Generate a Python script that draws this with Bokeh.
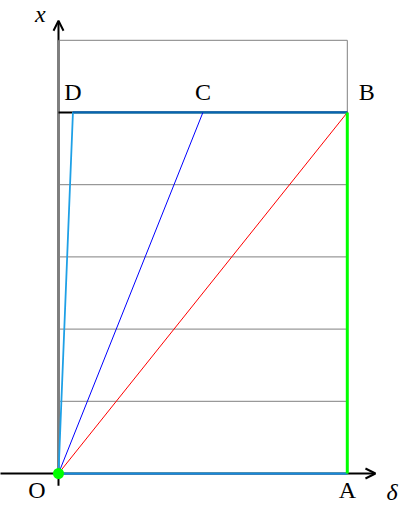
from bokeh.plotting import figure
from bokeh.models import Range1d, Arrow, OpenHead
from bokeh.core.properties import value
from bokeh.embed import file_html
from bokeh.resources import INLINE

# Points O, A, B, C, D
names = ["O", "A", "B", "C", "D"]
px = [0, 4, 4, 2, 0.2]
py = [0, 0, 5, 5, 5]

grid_y = [0, 1, 2, 3, 4, 5, 6]
grid_x0, grid_x1 = 0, 4

axis_x = [-0.82, 4.39]
axis_y = [-0.17, 6.27]

P = dict(zip(names, zip(px, py)))

p = figure(width=401, height=507, output_backend="svg", toolbar_location=None,
           x_range=Range1d(-0.8033, 4.7507), y_range=Range1d(-0.4709, 6.5512),
           min_border=0, outline_line_color=None)
p.axis.visible = False
p.grid.visible = False
p.background_fill_color = "white"

# gray grid
p.multi_line(xs=[[grid_x0, grid_x1] for _ in grid_y], ys=[[g, g] for g in grid_y],
             line_color="#808080", line_width=1)
p.multi_line(xs=[[grid_x0, grid_x0], [grid_x1, grid_x1]], ys=[[0, 6], [0, 6]],
             line_color="#808080", line_width=1)

# axes with arrows
p.add_layout(Arrow(end=OpenHead(size=10, line_width=2, line_color="black"),
                   x_start=axis_x[0], y_start=0, x_end=axis_x[1], y_end=0,
                   line_width=2, line_color="black", level="underlay"))
p.add_layout(Arrow(end=OpenHead(size=10, line_width=2, line_color="black"),
                   x_start=0, y_start=axis_y[0], x_end=0, y_end=axis_y[1],
                   line_width=2, line_color="black", level="underlay"))

# black line at y=5
p.line([0, P["B"][0]], [5, 5], line_color="black", line_width=2)

# cyan polyline A-O-D-B
p.line([P["A"][0], P["O"][0], P["D"][0], P["B"][0]],
       [P["A"][1], P["O"][1], P["D"][1], P["B"][1]], line_color="#1ea0e6", line_width=1.8)
# blue polyline O-C-B
p.line([P["O"][0], P["C"][0]], [P["O"][1], P["C"][1]], line_color="#0000ff", line_width=1)
p.line([P["D"][0], P["B"][0]], [P["D"][1] + 0.006, P["B"][1] + 0.006],
       line_color="#0050a0", line_width=1.2)
p.line([P["O"][0], P["A"][0]], [P["O"][1] - 0.006, P["A"][1] - 0.006],
       line_color="#1070d0", line_width=0.8)
# red O-B
p.line([P["O"][0], P["B"][0]], [P["O"][1], P["B"][1]], line_color="#ff0000", line_width=1)
# green A-B
p.line([P["A"][0], P["B"][0]], [P["A"][1], P["B"][1]], line_color="#00ff00", line_width=3)

# green dot at O
p.scatter([P["O"][0]], [P["O"][1]], size=11, fill_color="#00ff00", line_color=None)

font = value("Liberation Serif")
lab_dx = [-0.30, 0.0, 0.27, 0.0, 0.0]
lab_dy = [-0.235, -0.235, 0.28, 0.28, 0.28]
p.text([x + d for x, d in zip(px, lab_dx)], [y + d for y, d in zip(py, lab_dy)], text=names,
       text_font=font, text_font_size="24px", text_align="center", text_baseline="middle",
       text_color="black")
p.text([-0.25], [6.36], text=["x"], text_font=font, text_font_style="italic",
       text_font_size="24px", text_align="center", text_baseline="middle")
p.text([4.62], [-0.26], text=["δ"], text_font=font, text_font_style="italic",
       text_font_size="24px", text_align="center", text_baseline="middle")

open("out.html", "w").write(file_html(p, INLINE))
